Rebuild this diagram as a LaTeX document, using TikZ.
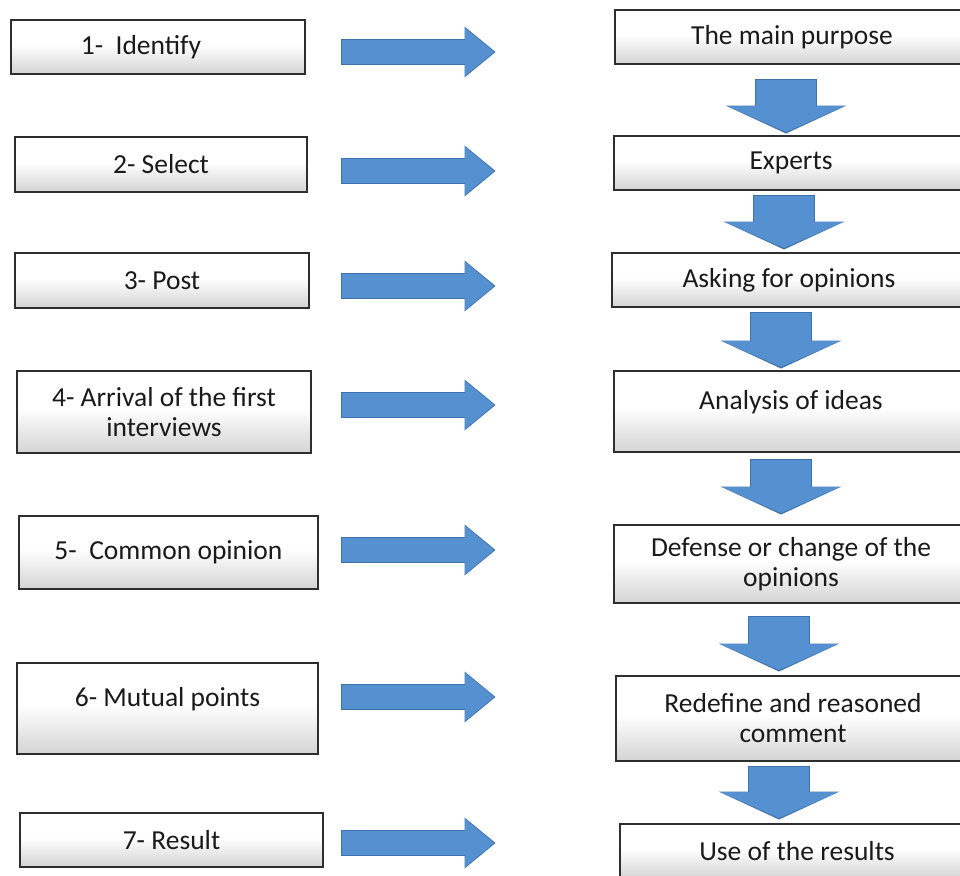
\documentclass[tikz,border=0pt]{standalone}
\usepackage{fontspec}
\setmainfont{Carlito}
\usetikzlibrary{arrows.meta}
\definecolor{arrowblue}{HTML}{5591D1}
\definecolor{arrowedge}{HTML}{3F72A8}
\definecolor{boxline}{HTML}{2E2E2E}
\definecolor{boxtext}{HTML}{1A1A1A}
\pgfdeclareverticalshading{boxfade}{100bp}{color(0bp)=(black!17); color(25bp)=(black!17); color(52bp)=(white); color(100bp)=(white)}

\begin{document}
\begin{tikzpicture}[x=1pt,y=-1pt]
        \tikzstyle{stage}=[rectangle, draw=boxline, line width=1.4pt, shade, shading=boxfade, text=boxtext, font=\fontsize{27.5pt}{30pt}\selectfont, align=center, inner sep=0pt, minimum height=54pt]
        \tikzstyle{across}=[arrowblue, line width=24pt, -{Triangle[length=29pt, width=48pt, line width=0pt]},
            preaction={draw=arrowedge, line width=26.5pt, shorten <=-1pt, shorten >=-1.5pt, -{Triangle[length=31pt, width=51pt, line width=0pt]}}]
        \tikzstyle{down}=[arrowblue, line width=60pt, -{Triangle[length=26pt, width=118pt, line width=0pt]},
            preaction={draw=arrowedge, line width=62.5pt, shorten <=-1pt, shorten >=-1.5pt, -{Triangle[length=28pt, width=121pt, line width=0pt]}}]
        \useasboundingbox (0,0) rectangle (960,875);
        \clip (0,0) rectangle (960,875);
        \fill[white] (0,0) rectangle (960,875);
        % steps on the left
        \node [stage, minimum width=294pt] (p1) at (158,47) {1-\ \ Identify\hspace*{34pt}};
        \node [stage, minimum width=292pt, minimum height=55pt] (p2) at (161,164.5) {2- Select};
        \node [stage, minimum width=294pt, minimum height=55pt] (p3) at (162,280.5) {3- Post};
        \node [stage, minimum width=294pt, minimum height=82pt] (p4) at (164,412) {4- Arrival of the first\\interviews};
        \node [stage, minimum width=299pt, minimum height=73pt] (p5) at (168.5,552.5) {5-\ \ Common opinion};
        \node [stage, minimum width=301pt, minimum height=91pt, text depth=23pt] (p6) at (167.5,708.5) {6- Mutual points};
        \node [stage, minimum width=303pt] (p7) at (171.5,840) {7- Result};
        % outcomes on the right
        \node [stage, minimum width=354pt] (o1) at (792,37) {The main purpose};
        \node [stage, minimum width=354pt] (o2) at (791,163) {Experts};
        \node [stage, minimum width=354pt] (o3) at (789,280) {Asking for opinions};
        \node [stage, minimum width=354pt, minimum height=81pt, text depth=23pt] (o4) at (791,411.5) {Analysis of ideas};
        \node [stage, minimum width=354pt, minimum height=78pt] (o5) at (791,564) {Defense or change of the\\opinions};
        \node [stage, minimum width=354pt, minimum height=85pt] (o6) at (793,718.5) {Redefine and reasoned\\comment};
        \node [stage, minimum width=354pt] (o7) at (797,851) {Use of the results};
        % arrow ends
        \coordinate (t1) at (342,52);  \coordinate (h1) at (494,52);
        \coordinate (t2) at (342,171); \coordinate (h2) at (494,171);
        \coordinate (t3) at (342,286); \coordinate (h3) at (494,286);
        \coordinate (t4) at (342,405); \coordinate (h4) at (494,405);
        \coordinate (t5) at (342,550); \coordinate (h5) at (494,550);
        \coordinate (t6) at (342,697); \coordinate (h6) at (494,697);
        \coordinate (t7) at (342,843); \coordinate (h7) at (494,843);
        \coordinate (u1) at (786,80);  \coordinate (v1) at (786,132);
        \coordinate (u2) at (784,196); \coordinate (v2) at (784,248);
        \coordinate (u3) at (781,313); \coordinate (v3) at (781,367);
        \coordinate (u4) at (781,460); \coordinate (v4) at (781,513);
        \coordinate (u5) at (779,617); \coordinate (v5) at (779,670);
        \coordinate (u6) at (779,767); \coordinate (v6) at (779,818);
        \draw [across] (t1) -- (h1);
        \draw [across] (t2) -- (h2);
        \draw [across] (t3) -- (h3);
        \draw [across] (t4) -- (h4);
        \draw [across] (t5) -- (h5);
        \draw [across] (t6) -- (h6);
        \draw [across] (t7) -- (h7);
        \draw [down] (u1) -- (v1);
        \draw [down] (u2) -- (v2);
        \draw [down] (u3) -- (v3);
        \draw [down] (u4) -- (v4);
        \draw [down] (u5) -- (v5);
        \draw [down] (u6) -- (v6);
\end{tikzpicture}
\end{document}
